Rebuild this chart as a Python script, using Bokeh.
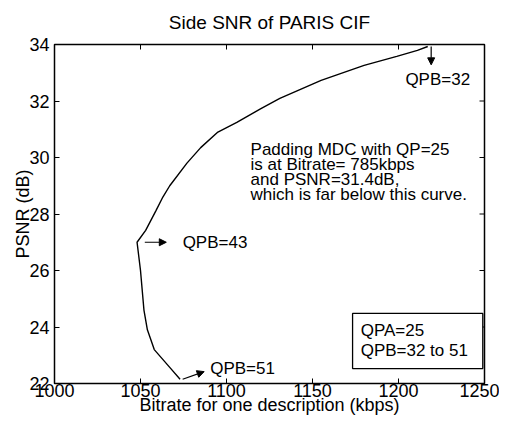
import math
from bokeh.plotting import figure
from bokeh.models import Range1d, Arrow, NormalHead, FixedTicker
from bokeh.core.properties import value
from bokeh.embed import file_html
from bokeh.resources import INLINE

# ---- data ----
bitrate = [1217, 1211, 1199, 1180, 1155, 1131, 1120, 1106, 1095, 1085, 1077, 1067, 1063,
           1059, 1053, 1048, 1050, 1052, 1054, 1058, 1067, 1073]
psnr = [33.93, 33.79, 33.58, 33.26, 32.73, 32.09, 31.73, 31.24, 30.9, 30.35, 29.8, 29.0, 28.6,
        28.12, 27.42, 27.0, 26.0, 24.6, 23.9, 23.2, 22.57, 22.15]

x_ticks = [1000, 1050, 1100, 1150, 1200, 1250]
y_ticks = [22, 24, 26, 28, 30, 32, 34]
x_min, x_max = 1000, 1250
y_min, y_max = 22, 34

title = "Side SNR of PARIS CIF"
x_label = "Bitrate for one description (kbps)"
y_label = "PSNR (dB)"

# annotations (data coordinates)
qpb_labels = ["QPB=32", "QPB=43", "QPB=51"]
qpb_label_x = [1204, 1074.5, 1090.5]
qpb_label_y = [32.75, 27.0, 22.53]
arrow_x_start = [1219, 1052.5, 1074.5]
arrow_y_start = [33.93, 27.0, 22.15]
arrow_x_end = [1219, 1065, 1087]
arrow_y_end = [33.28, 27.0, 22.42]

note_lines = ["Padding MDC with QP=25", "is at Bitrate= 785kbps",
              "and PSNR=31.4dB,", "which is far below this curve."]
note_x = 1114
note_y = [30.29, 29.75, 29.22, 28.69]

legend_lines = ["QPA=25", "QPB=32 to 51"]
legend_x = 1178
legend_y = [23.88, 23.17]
legend_box = dict(left=1173.3, right=1249, top=24.48, bottom=22.53)

FONT = "Liberation Sans"

p = figure(width=499, height=418, output_backend="svg", toolbar_location=None,
           x_range=Range1d(x_min, x_max), y_range=Range1d(y_min, y_max),
           min_border_left=54, min_border_right=15, min_border_top=44, min_border_bottom=35)
p.xgrid.visible = False
p.ygrid.visible = False
p.background_fill_color = "white"
p.border_fill_color = "white"
p.outline_line_color = "black"
p.outline_line_width = 1.5

p.title.text = title
p.title.text_font = FONT
p.title.text_font_size = "19px"
p.title.text_font_style = "normal"
p.title.text_color = "black"
p.title.align = "center"
p.title.vertical_align = "middle"
p.title.standoff = 21

for ax in (p.xaxis[0], p.yaxis[0]):
    ax.major_tick_in = 5
    ax.major_tick_out = 0
    ax.minor_tick_in = 0
    ax.minor_tick_out = 0
    ax.major_label_text_font = FONT
    ax.major_label_text_font_size = "18px"
    ax.major_label_text_color = "black"
    ax.axis_label_text_font = FONT
    ax.axis_label_text_font_size = "18px"
    ax.axis_label_text_font_style = "normal"
    ax.axis_label_text_color = "black"
    ax.axis_line_color = "black"
    ax.major_tick_line_color = "black"

p.xaxis.ticker = FixedTicker(ticks=x_ticks)
p.yaxis.ticker = FixedTicker(ticks=y_ticks)
p.xaxis.axis_label = x_label
p.yaxis.axis_label = y_label
p.xaxis.major_label_standoff = 0
p.xaxis.axis_label_standoff = -5
p.yaxis.major_label_standoff = 5
p.yaxis.axis_label_standoff = -7

# inward tick marks on the top and right edges of the box (clipped to the frame)
p.scatter(x=x_ticks, y=[y_max] * len(x_ticks), marker="dash", angle=math.pi / 2,
          size=10, line_color="black", line_width=1)
p.scatter(x=[x_max] * len(y_ticks), y=y_ticks, marker="dash",
          size=10, line_color="black", line_width=1)

p.line(bitrate, psnr, line_color="black", line_width=1.4)

for xs, ys, xe, ye in zip(arrow_x_start, arrow_y_start, arrow_x_end, arrow_y_end):
    p.add_layout(Arrow(end=NormalHead(size=7, fill_color="black", line_color="black"),
                       x_start=xs, y_start=ys, x_end=xe, y_end=ye,
                       line_color="black", line_width=1.2))

p.text(x=qpb_label_x, y=qpb_label_y, text=qpb_labels, text_font=value(FONT),
       text_font_size="17px", text_baseline="middle", text_align="left", text_color="black")
p.text(x=[note_x] * len(note_lines), y=note_y, text=note_lines, text_font=value(FONT),
       text_font_size="17px", text_baseline="middle", text_align="left", text_color="black")

p.quad(left=[legend_box["left"]], right=[legend_box["right"]], top=[legend_box["top"]],
       bottom=[legend_box["bottom"]], fill_color="white", line_color="black", line_width=1.3)
p.text(x=[legend_x] * len(legend_lines), y=legend_y, text=legend_lines, text_font=value(FONT),
       text_font_size="17px", text_baseline="middle", text_align="left", text_color="black")

open("out.html", "w").write(file_html(p, INLINE))
